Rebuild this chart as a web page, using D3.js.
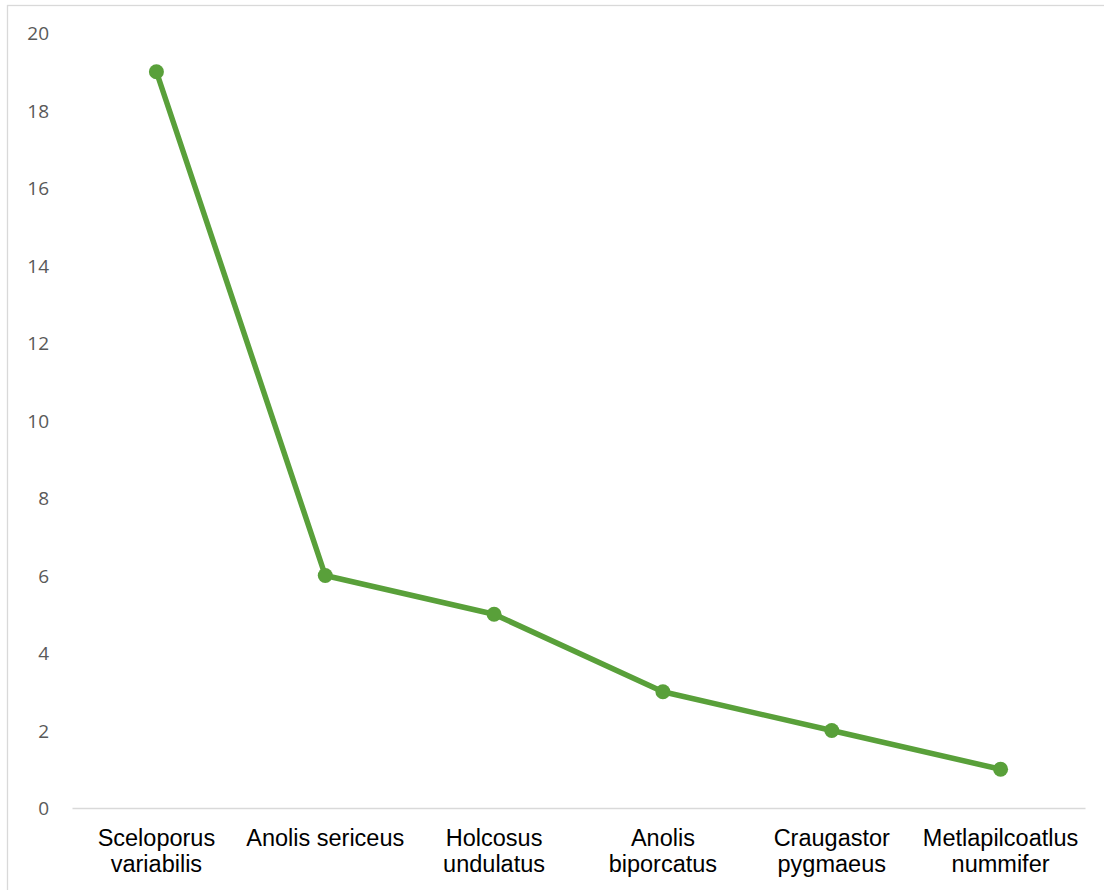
<!DOCTYPE html>
<html>
<head>
<meta charset="utf-8">
<script src="https://cdn.jsdelivr.net/npm/d3@7"></script>
<style>
  html, body { margin: 0; padding: 0; background: #ffffff; }
  svg { display: block; }
</style>
</head>
<body>
<svg id="chart" width="1104" height="890"></svg>
<script>
// Species and their counts
const species = [
  ["Sceloporus", "variabilis"],
  ["Anolis sericeus"],
  ["Holcosus", "undulatus"],
  ["Anolis", "biporcatus"],
  ["Craugastor", "pygmaeus"],
  ["Metlapilcoatlus", "nummifer"]
];
const counts = [19, 6, 5, 3, 2, 1];
const yTicks = [0, 2, 4, 6, 8, 10, 12, 14, 16, 18, 20];

const W = 1104, H = 890;
const plot = { left: 72, right: 1085, top: 33, bottom: 808 };
const green = "#59a03a";

const svg = d3.select("#chart");

// chart frame
svg.append("rect")
  .attr("x", 7.5).attr("y", 5.5)
  .attr("width", W + 10).attr("height", H + 10)
  .attr("fill", "none")
  .attr("stroke", "#d9d9d9")
  .attr("stroke-width", 1.3);

const keys = species.map(d => d.join(" "));

const x = d3.scaleBand()
  .domain(keys)
  .range([plot.left, plot.right]);

const y = d3.scaleLinear()
  .domain([0, 20])
  .range([plot.bottom, plot.top]);

// Y axis labels (no axis line, no gridlines)
const yAxis = d3.axisLeft(y)
  .tickValues(yTicks)
  .tickSize(0)
  .tickPadding(0)
  .tickFormat(d3.format("d"));

const gy = svg.append("g")
  .attr("transform", "translate(49,0.5)")
  .call(yAxis);
gy.select(".domain").remove();
gy.selectAll("text")
  .attr("fill", "#595959")
  .attr("font-family", "'Open Sans', sans-serif")
  .attr("font-size", "19px");

// X axis baseline
const xAxis = d3.axisBottom(x).tickSize(0).tickFormat("");
const gx = svg.append("g")
  .attr("transform", `translate(0,${plot.bottom})`)
  .call(xAxis);
gx.select(".domain")
  .attr("stroke", "#d9d9d9")
  .attr("stroke-width", 1.5);
gx.selectAll(".tick text").remove();

// Category labels, wrapped over two lines
const labels = svg.append("g")
  .attr("font-family", "'Liberation Sans', Arial, sans-serif")
  .attr("font-size", "23.5px")
  .attr("fill", "#000000")
  .attr("text-anchor", "middle");

species.forEach((lines, i) => {
  const cx = x(keys[i]) + x.bandwidth() / 2;
  const t = labels.append("text")
    .attr("x", cx)
    .attr("y", 846);
  lines.forEach((ln, j) => {
    t.append("tspan")
      .attr("x", cx)
      .attr("dy", j === 0 ? 0 : 26)
      .text(ln);
  });
});

// Series line
svg.append("path")
  .datum(counts)
  .attr("fill", "none")
  .attr("stroke", green)
  .attr("stroke-width", 5.5)
  .attr("stroke-linejoin", "round")
  .attr("stroke-linecap", "round")
  .attr("d", d3.line()
    .x((d, i) => x(keys[i]) + x.bandwidth() / 2)
    .y(d => y(d)));

svg.append("g")
  .selectAll("circle")
  .data(counts)
  .join("circle")
  .attr("cx", (d, i) => x(keys[i]) + x.bandwidth() / 2)
  .attr("cy", d => y(d))
  .attr("r", 7.5)
  .attr("fill", green);
</script>
</body>
</html>
